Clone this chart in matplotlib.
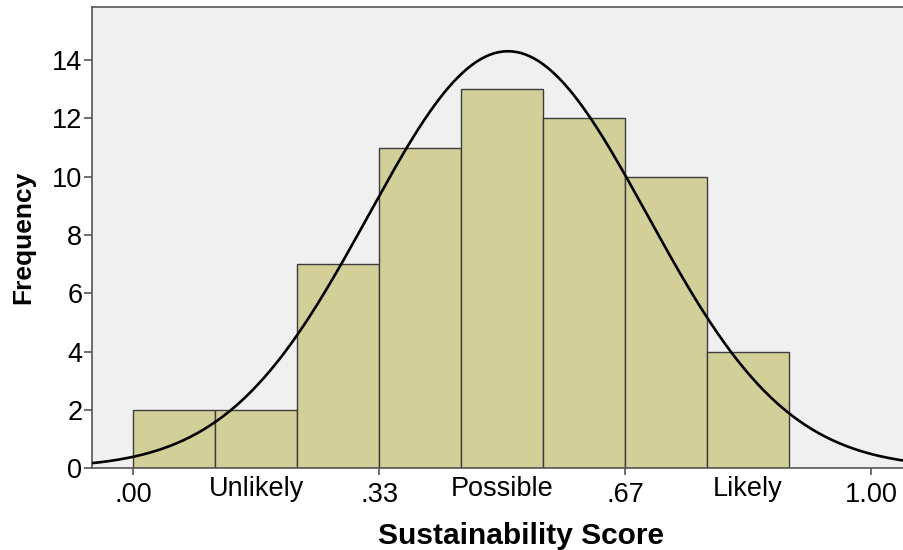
import numpy as np
import matplotlib.pyplot as plt

# histogram bins (score 0..1, bin width 1/9) and counts
bin_edges = [0, 1/9, 2/9, 3/9, 4/9, 5/9, 6/9, 7/9, 8/9]
counts = [2, 2, 7, 11, 13, 12, 10, 4]
n_total = 61
curve_mean = 0.508
curve_sd = 0.189

num_ticks = [0.0, 1/3, 2/3, 1.0]
num_labels = ['.00', '.33', '.67', '1.00']
cat_ticks = [1/6, 0.5, 5/6]
cat_labels = ['Unlikely', 'Possible', 'Likely']
y_ticks = [0, 2, 4, 6, 8, 10, 12, 14]

plt.rcParams['font.family'] = ['Liberation Sans', 'DejaVu Sans']
fs = 19.5

fig = plt.figure(figsize=(9.04, 5.5), dpi=100)
ax = fig.add_axes([0.1018, 0.149, 0.95, 0.838])
ax.set_facecolor('#f0f0f0')

widths = np.diff(bin_edges)
ax.bar(bin_edges[:-1], counts, width=widths, align='edge',
       color='#d3cf98', edgecolor='#3c3c3c', linewidth=1.0, zorder=2)

# normal curve scaled to counts
bw = widths[0]
xs = np.linspace(-0.06, 1.15, 400)
ys = n_total * bw / (curve_sd * np.sqrt(2 * np.pi)) * np.exp(-0.5 * ((xs - curve_mean) / curve_sd) ** 2)
ax.plot(xs, ys, color='black', linewidth=1.9, zorder=3)

ax.set_xlim(-0.0556, 1.108)
ax.set_ylim(0, 15.82)

ax.set_xticks(num_ticks)
ax.set_xticklabels(num_labels)
ax.set_xticks(cat_ticks, minor=True)
ax.set_xticklabels(cat_labels, minor=True)
ax.tick_params(axis='x', which='major', length=5, width=1.2, color='#555555',
               labelsize=fs, pad=5)
ax.tick_params(axis='x', which='minor', length=0, labelsize=fs, pad=6)
ax.set_yticks(y_ticks)
ax.tick_params(axis='y', length=6, width=1.2, color='#555555', labelsize=fs, pad=1)

for side in ['left', 'top', 'bottom']:
    ax.spines[side].set_color('#555555')
    ax.spines[side].set_linewidth(1.2)
ax.spines['right'].set_visible(False)

ax.set_xlabel('Sustainability Score', fontsize=21.5, fontweight='bold', labelpad=10)
ax.set_ylabel('Frequency', fontsize=19, fontweight='bold', labelpad=12)

fig.savefig('out.png', dpi=100, facecolor='white')
